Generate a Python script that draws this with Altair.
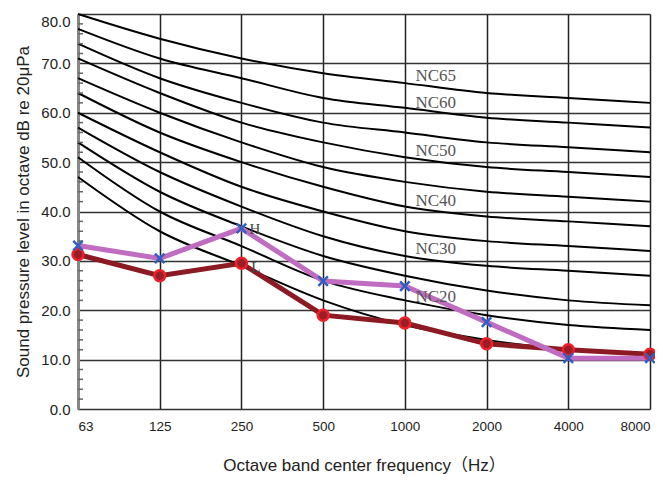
import altair as alt
import pandas as pd

freq_labels = ["63", "125", "250", "500", "1000", "2000", "4000", "8000"]
nc_names = ["NC15", "NC20", "NC25", "NC30", "NC35", "NC40", "NC45", "NC50", "NC55", "NC60", "NC65"]
nc_values = [
    [47, 36, 29, 22, 17, 14, 12, 11],
    [51, 40, 33, 26, 22, 19, 17, 16],
    [54, 44, 37, 31, 27, 24, 22, 21],
    [57, 48, 41, 35, 31, 29, 28, 27],
    [60, 52, 45, 40, 36, 34, 33, 32],
    [64, 56, 50, 45, 41, 39, 38, 37],
    [67, 60, 54, 49, 46, 44, 43, 42],
    [71, 64, 58, 54, 51, 49, 48, 47],
    [74, 67, 62, 58, 56, 54, 53, 52],
    [77, 71, 67, 63, 61, 59, 58, 57],
    [80, 75, 71, 68, 66, 64, 63, 62],
]
h_values = [33.1, 30.5, 36.6, 25.9, 24.9, 17.6, 10.3, 10.3]
l_values = [31.3, 27.0, 29.5, 19.0, 17.4, 13.2, 12.0, 11.1]

label_names = ["NC65", "NC60", "NC50", "NC40", "NC30", "NC20"]
label_y = [67.5, 61.9, 52.2, 42.2, 32.4, 22.6]
label_x = [4.13, 4.13, 4.13, 4.13, 4.13, 4.13]

hl_text = ["H", "L"]
hl_x = [2.1, 2.12]
hl_y = [36.4, 28.8]

rows = []
for name, vals in zip(nc_names, nc_values):
    for i, v in enumerate(vals):
        rows.append({"curve": name, "i": i, "v": v})
nc_df = pd.DataFrame(rows)
h_df = pd.DataFrame({"i": list(range(8)), "v": h_values})
l_df = pd.DataFrame({"i": list(range(8)), "v": l_values})
lab_df = pd.DataFrame({"t": label_names, "x": label_x, "y": label_y})
hl_df = pd.DataFrame({"t": hl_text, "x": hl_x, "y": hl_y})

label_expr = "[" + ",".join("'" + s + "'" for s in freq_labels) + "][datum.value]"

xs = alt.Scale(domain=[0, 7], nice=False, zero=False)
ys = alt.Scale(domain=[0, 80], nice=False)

x_axis = alt.Axis(values=list(range(8)), labelExpr=label_expr, title="Octave  band  center  frequency（Hz）",
                  grid=True, gridColor="#222", gridWidth=1.5, ticks=False, domain=False,
                  labelFont="Liberation Sans", labelFontSize=13.5, labelColor="#222", labelPadding=10,
                  titleFont="Liberation Sans, Noto Sans CJK SC", titleFontSize=17, titleFontWeight="normal",
                  titleColor="#222", titlePadding=25)
y_axis = alt.Axis(values=list(range(0, 81, 10)), format=".1f", title="Sound pressure level in octave dB re 20μPa",
                  grid=True, gridColor="#333", gridWidth=1.5, ticks=False, domain=True, domainColor="#888",
                  domainWidth=3, labelFont="Liberation Sans", labelFontSize=15, labelColor="#222",
                  labelBaseline={"condition": {"test": "datum.value == 80", "value": "top"}, "value": "middle"},
                  labelPadding=8, titleFont="Liberation Sans", titleFontSize=17, titleFontWeight="normal",
                  titleColor="#222", titlePadding=8)

base_x = alt.X("i:Q", scale=xs, axis=x_axis)
base_y = alt.Y("v:Q", scale=ys, axis=y_axis)

minor_df = pd.DataFrame({"v": [m for m in range(0, 81, 2) if m % 10 != 0]})
minor = alt.Chart(minor_df).mark_rule(color="#666", strokeWidth=1.5).encode(
    y=alt.Y("v:Q", scale=ys), x=alt.value(0), x2=alt.value(5))

nc = alt.Chart(nc_df).mark_line(color="black", strokeWidth=2, interpolate="monotone").encode(
    x=base_x, y=base_y, detail="curve:N")

h_line = alt.Chart(h_df).mark_line(color="#C06CC0", strokeWidth=5).encode(x="i:Q", y="v:Q")
l_line = alt.Chart(l_df).mark_line(color="#8B1A22", strokeWidth=5).encode(x="i:Q", y="v:Q")
l_pts = alt.Chart(l_df).mark_point(shape="circle", filled=True, color="#9A1E28", stroke="#F0202A",
                                   strokeWidth=2.5, size=120, opacity=1).encode(x="i:Q", y="v:Q")
h_pts = alt.Chart(h_df).mark_point(shape="M-1,-1L1,1M-1,1L1,-1", filled=False, color="#2F5FC0",
                                   strokeWidth=2.5, size=90, opacity=1).encode(x="i:Q", y="v:Q")

labels = alt.Chart(lab_df).mark_text(align="left", baseline="middle", font="Liberation Serif",
                                     fontSize=17, color="#555").encode(x="x:Q", y="y:Q", text="t:N")
hl = alt.Chart(hl_df).mark_text(align="left", baseline="middle", font="Liberation Serif",
                                fontSize=15, color="#444").encode(x="x:Q", y="y:Q", text="t:N")

chart = alt.layer(nc, minor, l_line, h_line, l_pts, h_pts, labels, hl).properties(
    width=572, height=395, autosize="none",
    padding={"left": 70, "top": 6, "right": 5, "bottom": 70},
).configure_view(stroke="#999", strokeWidth=3).configure(background="white")

chart.save("out.html", embed_options={"renderer": "svg", "actions": False})
